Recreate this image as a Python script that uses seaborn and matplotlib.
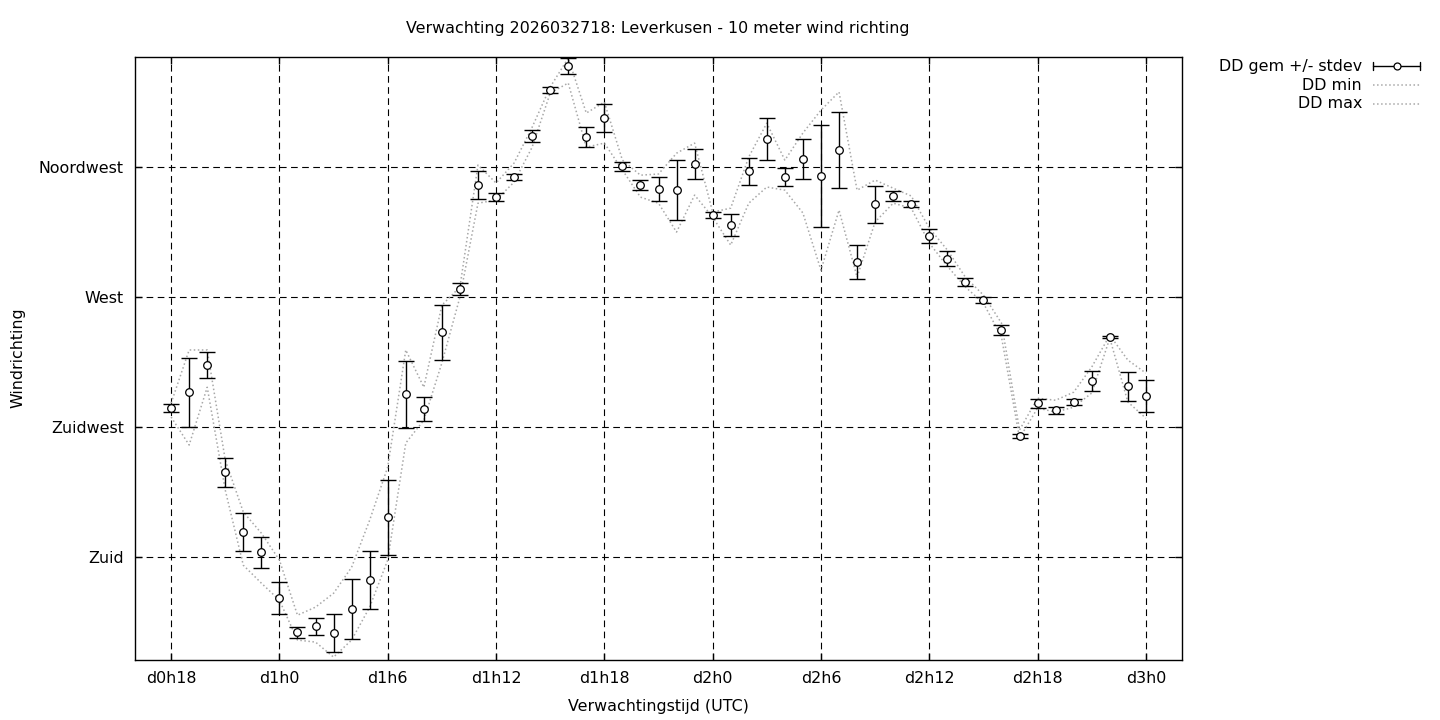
import numpy as np
import pandas as pd
import matplotlib
matplotlib.use("Agg")
import matplotlib.pyplot as plt
from matplotlib.lines import Line2D
import seaborn as sns

# ---- data (hours since d0h0, degrees) ----
hours = list(range(18, 73))
dd_mean = [231.6, 237.1, 246.5, 209.4, 188.7, 181.7, 165.8, 154.0, 156.1, 153.7,
           162.0, 172.0, 193.8, 236.4, 231.2, 257.9, 272.8, 308.8, 304.6, 311.5,
           325.7, 341.7, 350.0, 325.4, 332.0, 315.3, 308.8, 307.4, 307.0, 316.0,
           298.4, 294.9, 313.6, 324.7, 311.5, 317.8, 311.9, 320.9, 282.1, 302.2,
           305.0, 302.2, 291.1, 283.2, 275.2, 269.0, 258.6, 221.9, 233.3, 230.9,
           233.7, 240.9, 256.2, 239.2, 235.7]
dd_std = [1.4, 11.9, 4.5, 5.0, 6.7, 5.4, 5.5, 1.9, 2.9, 6.6,
          10.4, 10.0, 13.0, 11.6, 4.2, 9.5, 2.1, 5.0, 1.4, 1.0,
          2.1, 0.9, 2.9, 3.5, 4.7, 1.6, 1.7, 4.3, 10.4, 5.2,
          1.0, 3.8, 4.7, 7.3, 3.1, 6.9, 17.7, 13.2, 5.9, 6.4,
          1.6, 1.0, 2.4, 2.6, 1.4, 1.0, 1.7, 0.7, 1.6, 1.2,
          1.2, 3.5, 0.3, 5.0, 5.5]
dd_min = [228.5, 218.8, 238.8, 203.2, 177.2, 171.0, 165.1, 151.3, 150.6, 145.4,
          151.3, 162.7, 179.0, 219.5, 227.4, 247.2, 270.0, 302.5, 303.6, 309.8,
          321.9, 340.6, 344.1, 321.9, 323.3, 314.0, 304.6, 302.5, 292.5, 305.3,
          297.7, 288.0, 302.5, 308.1, 307.0, 299.1, 279.3, 300.1, 276.9, 296.0,
          302.5, 300.8, 288.7, 280.7, 273.5, 267.9, 256.2, 221.2, 231.6, 230.2,
          231.9, 236.8, 255.8, 233.7, 228.1]
dd_max = [233.3, 251.7, 251.7, 213.6, 195.6, 188.3, 179.0, 159.9, 162.7, 167.5,
          176.5, 192.8, 211.2, 251.7, 238.8, 267.2, 273.5, 315.7, 309.5, 316.4,
          328.8, 342.7, 352.7, 333.7, 337.5, 317.4, 312.2, 312.6, 319.8, 323.3,
          299.4, 300.8, 318.5, 330.2, 317.4, 326.8, 334.7, 341.0, 307.0, 310.5,
          307.7, 305.0, 293.9, 286.3, 276.9, 270.7, 261.0, 224.0, 235.0, 234.3,
          237.1, 245.8, 256.8, 248.2, 243.7]

x_ticks = [18, 24, 30, 36, 42, 48, 54, 60, 66, 72]
x_ticklabels = ["d0h18", "d1h0", "d1h6", "d1h12", "d1h18",
                "d2h0", "d2h6", "d2h12", "d2h18", "d3h0"]
y_ticks = [180, 225, 270, 315]
y_ticklabels = ["Zuid", "Zuidwest", "West", "Noordwest"]

title = "Verwachting 2026032718: Leverkusen - 10 meter wind richting"
xlabel = "Verwachtingstijd (UTC)"
ylabel = "Windrichting"
legend_labels = ["DD gem +/- stdev", "DD min", "DD max"]

df = pd.DataFrame({"hour": hours, "mean": dd_mean, "std": dd_std,
                   "min": dd_min, "max": dd_max})

# ---- style ----
sns.set_style("white")
plt.rcParams["font.family"] = ["DejaVu Sans"]
plt.rcParams["text.color"] = "black"
plt.rcParams["axes.labelcolor"] = "black"
plt.rcParams["xtick.color"] = "black"
plt.rcParams["ytick.color"] = "black"
FS = 11.4
GRAY = "#a8a8a8"

fig = plt.figure(figsize=(14.4, 7.2), dpi=100)
ax = fig.add_axes([135 / 1440, 1 - 660 / 720, (1182 - 135) / 1440, (660 - 57) / 720])

sns.lineplot(data=df, x="hour", y="min", ax=ax, color=GRAY, linestyle=":",
             linewidth=1.1, zorder=2)
sns.lineplot(data=df, x="hour", y="max", ax=ax, color=GRAY, linestyle=":",
             linewidth=1.1, zorder=2)
ax.errorbar(df["hour"], df["mean"], yerr=df["std"], fmt="none", ecolor="black",
            elinewidth=1.0, capsize=5.5, capthick=1.0, zorder=3)
sns.scatterplot(data=df, x="hour", y="mean", ax=ax, marker="o", s=30,
                facecolor="white", edgecolor="black", linewidth=0.9, zorder=4)

ax.set_xlim(16, 74)
ax.set_ylim(144.4, 353.1)
ax.set_xticks(x_ticks)
ax.set_xticklabels(x_ticklabels, fontsize=FS, color="black")
ax.set_yticks(y_ticks)
ax.set_yticklabels(y_ticklabels, fontsize=FS, color="black")
ax.tick_params(direction="in", length=5, width=1, top=True, right=True,
               bottom=True, left=True, pad=8, colors="black")
ax.grid(True, color="black", linestyle=(0, (6, 4)), linewidth=0.8)
for s in ax.spines.values():
    s.set_visible(True)
    s.set_color("black")
    s.set_linewidth(1.0)
ax.set_xlabel("")
ax.set_ylabel("")

fig.text(658 / 1440, 1 - 29 / 720, title, ha="center", va="center", fontsize=FS)
fig.text(658 / 1440, 1 - 707 / 720, xlabel, ha="center", va="center", fontsize=FS)
fig.text(18 / 1440, 1 - 358 / 720, ylabel, ha="center", va="center",
         rotation=90, fontsize=FS)

# ---- legend (gnuplot style: text right-aligned, sample on the right) ----
ys = [66, 85, 104]
x0, x1 = 1373 / 1440, 1420 / 1440
for lab, yy in zip(legend_labels, ys):
    fig.text(1362 / 1440, 1 - yy / 720, lab, ha="right", va="center", fontsize=FS)
yf = 1 - ys[0] / 720
fig.add_artist(Line2D([x0, x1], [yf, yf], color="black", lw=1.0,
                      transform=fig.transFigure))
cap = 4 / 720
for xx in (x0, x1):
    fig.add_artist(Line2D([xx, xx], [yf - cap, yf + cap], color="black", lw=1.0,
                          transform=fig.transFigure))
fig.add_artist(Line2D([(x0 + x1) / 2], [yf], marker="o", markersize=5,
                      markerfacecolor="white", markeredgecolor="black",
                      markeredgewidth=0.9, transform=fig.transFigure))
for yy in ys[1:]:
    yf2 = 1 - yy / 720
    fig.add_artist(Line2D([x0, x1], [yf2, yf2], color=GRAY, lw=1.1, linestyle=":",
                          transform=fig.transFigure))

fig.savefig("out.png", dpi=100)
